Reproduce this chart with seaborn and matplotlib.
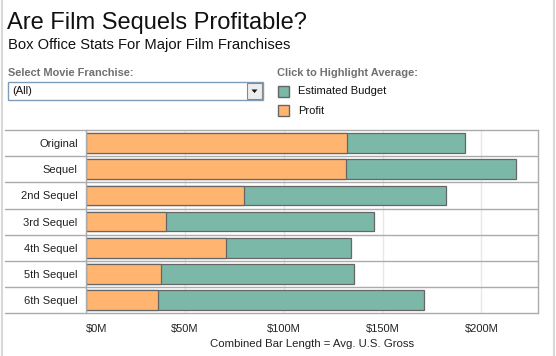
import matplotlib
matplotlib.use("Agg")
import matplotlib.pyplot as plt
from matplotlib.patches import Rectangle, Polygon
from matplotlib.lines import Line2D
import seaborn as sns
import pandas as pd

# ---- data (values in $M) ----
categories = ["Original", "Sequel", "2nd Sequel", "3rd Sequel", "4th Sequel", "5th Sequel", "6th Sequel"]
profit = [132.1, 131.6, 80.1, 40.7, 70.7, 37.9, 36.2]
budget = [59.8, 86.1, 102.2, 104.8, 63.1, 97.5, 134.5]
tick_values = [0, 50, 100, 150, 200]
tick_labels = ["$0M", "$50M", "$100M", "$150M", "$200M"]

total = [p + b for p, b in zip(profit, budget)]
df = pd.DataFrame({"category": categories, "profit": profit, "budget": budget, "total": total})

sns.set_style("white")
plt.rcParams["font.family"] = ["Liberation Sans", "DejaVu Sans"]

W, H = 556, 356
fig = plt.figure(figsize=(W / 100, H / 100), dpi=100)

def fx(x):
    return x / W

def fy(y):
    return 1 - y / H

ORANGE = "#FFB570"
TEAL = "#7BB8A8"
EDGE = "#666666"
LINE = "#ABABAB"

ax_l, ax_r, ax_t, ax_b = 86, 538, 130, 313.3
ax = fig.add_axes([fx(ax_l), fy(ax_b), fx(ax_r) - fx(ax_l), fy(ax_t) - fy(ax_b)])

sns.barplot(data=df, y="category", x="total", color=TEAL, orient="h", width=0.75,
            edgecolor=EDGE, linewidth=0.9, ax=ax, order=categories, saturation=1)
sns.barplot(data=df, y="category", x="profit", color=ORANGE, orient="h", width=0.75,
            edgecolor=EDGE, linewidth=0.9, ax=ax, order=categories, saturation=1)

xmax = 228.6
ax.set_xlim(0, xmax)
ax.set_ylim(len(categories) - 0.5, -0.5)

for v in tick_values:
    ax.axvline(v, color="#E8E8E8", lw=1, zorder=0)

# row separator lines extending into label column
x0 = (5 - ax_l) / (ax_r - ax_l)
ytrans = ax.get_yaxis_transform()
for i in range(len(categories) + 1):
    ax.plot([x0, 1], [i - 0.5, i - 0.5], transform=ytrans, color=LINE, lw=1.0,
            clip_on=False, zorder=3)

for s in ["top", "bottom"]:
    ax.spines[s].set_visible(False)
ax.spines["right"].set_color(LINE)
ax.spines["right"].set_linewidth(1.0)
ax.spines["left"].set_color(LINE)
ax.spines["left"].set_linewidth(1.0)

ax.set_xticks(tick_values)
ax.set_xticklabels(tick_labels, fontsize=8, color="#222222")
ax.get_xticklabels()[0].set_horizontalalignment("left")
ax.tick_params(axis="x", length=0, pad=8)
ax.tick_params(axis="y", length=0, pad=6, labelsize=8, labelcolor="#222222")
ax.set_ylabel("")
ax.set_xlabel("Combined Bar Length = Avg. U.S. Gross", fontsize=8.2, color="#222222", labelpad=3)
ax.grid(False)

# ---- titles ----
fig.text(fx(7), fy(29.5), "Are Film Sequels Profitable?", fontsize=17, color="#111111",
         ha="left", va="baseline")
fig.text(fx(8), fy(49), "Box Office Stats For Major Film Franchises", fontsize=10.6,
         color="#111111", ha="left", va="baseline")

# ---- dropdown ----
fig.text(fx(8), fy(76), "Select Movie Franchise:", fontsize=7.9, color="#707070",
         fontweight="bold", ha="left", va="baseline")
fig.patches.append(Rectangle((fx(8), fy(100)), fx(263) - fx(8), fy(82) - fy(100),
                             transform=fig.transFigure, facecolor="white",
                             edgecolor="#7F9DB9", lw=1))
fig.patches.append(Rectangle((fx(247), fy(99)), fx(262) - fx(247), fy(83) - fy(99),
                             transform=fig.transFigure, facecolor="#EDEDED",
                             edgecolor="#888888", lw=0.8))
fig.patches.append(Polygon([(fx(251.5), fy(89.5)), (fx(257.5), fy(89.5)), (fx(254.5), fy(93))],
                           closed=True, transform=fig.transFigure, facecolor="#111111",
                           edgecolor="none"))
fig.text(fx(12), fy(91), "(All)", fontsize=8, color="#111111", ha="left", va="center")

# ---- legend ----
fig.text(fx(277), fy(76), "Click to Highlight Average:", fontsize=7.9, color="#707070",
         fontweight="bold", ha="left", va="baseline")
for (lbl, col, ytop) in [("Estimated Budget", TEAL, 85.7), ("Profit", ORANGE, 105)]:
    fig.patches.append(Rectangle((fx(277.5), fy(ytop + 11)), fx(11.5), fy(0) - fy(11),
                                 transform=fig.transFigure, facecolor=col,
                                 edgecolor="#666666", lw=1))
    fig.text(fx(298), fy(ytop + 5.5), lbl, fontsize=8, color="#111111", ha="left", va="center")

# ---- image borders ----
fig.lines.append(Line2D([fx(1.5), fx(1.5)], [0, 1], transform=fig.transFigure,
                        color="#D8D8D8", lw=1.5))
fig.lines.append(Line2D([fx(553.5), fx(553.5)], [0, 1], transform=fig.transFigure,
                        color="#D8D8D8", lw=1.5))

fig.savefig("out.png", dpi=100)
